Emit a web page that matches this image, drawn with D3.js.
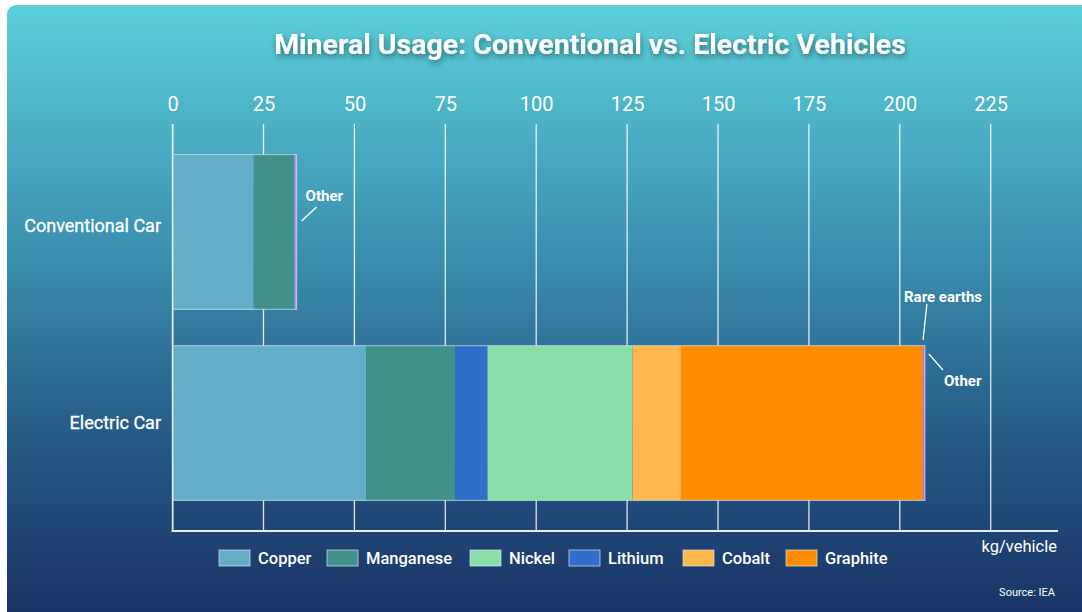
<!DOCTYPE html>
<html>
<head>
<meta charset="utf-8">
<script src="https://cdn.jsdelivr.net/npm/d3@7"></script>
<style>
  body { margin: 0; background: #fff; }
  svg { display: block; font-family: Roboto, "Noto Sans", sans-serif; }
</style>
</head>
<body>
<div id="chart-area"></div>
<script>
const categories = ["Conventional Car", "Electric Car"];
const minerals = ["Copper", "Manganese", "Lithium", "Nickel", "Cobalt", "Graphite", "Rare earths", "Other"];
const conventional = [22.3, 11.2, 0, 0, 0, 0, 0, 0.6];
const electric = [53.2, 24.5, 8.9, 39.9, 13.3, 66.3, 0.5, 0.3];
const legendNames = ["Copper", "Manganese", "Nickel", "Lithium", "Cobalt", "Graphite"];
const xTicks = [0, 25, 50, 75, 100, 125, 150, 175, 200, 225];

const colors = {
  "Copper": "#62aec6", "Manganese": "#40918a", "Lithium": "#2f6fcc", "Nickel": "#88e0a8",
  "Cobalt": "#fdb74d", "Graphite": "#fe8c00", "Rare earths": "#e27a8c", "Other": "#c490e4"
};

const W = 1082, H = 612;
const svg = d3.select("#chart-area").append("svg").attr("width", W).attr("height", H);
const defs = svg.append("defs");
const grad = defs.append("linearGradient").attr("id", "bg").attr("x1", 0).attr("y1", 0).attr("x2", 0).attr("y2", 1);
grad.append("stop").attr("offset", "0%").attr("stop-color", "#5bd0d9");
grad.append("stop").attr("offset", "40%").attr("stop-color", "#3a8eae");
grad.append("stop").attr("offset", "70%").attr("stop-color", "#245784");
grad.append("stop").attr("offset", "100%").attr("stop-color", "#192e62");
const shadow = defs.append("filter").attr("id", "shadow").attr("x", "-10%").attr("y", "-40%").attr("width", "120%").attr("height", "180%");
shadow.append("feDropShadow").attr("dx", 1).attr("dy", 3).attr("stdDeviation", 3).attr("flood-color", "#000").attr("flood-opacity", 0.45);

svg.append("rect").attr("x", 7).attr("y", 5).attr("width", W + 20).attr("height", H + 20)
  .attr("rx", 9).attr("fill", "url(#bg)");

svg.append("text").attr("x", 590).attr("y", 54).attr("text-anchor", "middle")
  .attr("fill", "#fff").attr("font-size", 28.5).attr("font-weight", 700)
  .attr("filter", "url(#shadow)")
  .text("Mineral Usage: Conventional vs. Electric Vehicles");

const x = d3.scaleLinear().domain([0, 244]).range([172.6, 1059.8]);
const y = d3.scaleBand().domain(categories).range([124, 531]).paddingInner(0.19).paddingOuter(0.16);

// grid lines
svg.append("g").selectAll("line").data(xTicks).join("line")
  .attr("x1", d => x(d)).attr("x2", d => x(d)).attr("y1", 124).attr("y2", 531)
  .attr("stroke", "#fff").attr("stroke-opacity", 0.85).attr("stroke-width", 1.3);

// top axis labels
const topAxis = d3.axisTop(x).tickValues(xTicks).tickSize(0).tickPadding(0);
const ax = svg.append("g").attr("transform", "translate(0,111)").call(topAxis);
ax.select(".domain").remove();
ax.selectAll("text").attr("fill", "#fff").attr("font-size", 20).attr("font-family", "Roboto");

// stacked bars
const rows = categories.map((c, i) => {
  const vals = i === 0 ? conventional : electric;
  const r = { category: c };
  minerals.forEach((m, j) => r[m] = vals[j]);
  return r;
});
const stack = d3.stack().keys(minerals)(rows);
svg.append("g").selectAll("g").data(stack).join("g")
  .attr("fill", d => colors[d.key])
  .selectAll("rect").data(d => d).join("rect")
  .attr("x", d => x(d[0])).attr("width", d => x(d[1]) - x(d[0]))
  .attr("y", d => y(d.data.category)).attr("height", y.bandwidth());

// bar outlines
svg.append("g").selectAll("rect").data(rows).join("rect")
  .attr("x", x(0)).attr("y", d => y(d.category)).attr("height", y.bandwidth())
  .attr("width", d => x(d3.sum(minerals, m => d[m])) - x(0))
  .attr("fill", "none").attr("stroke", "#d8e4ee").attr("stroke-opacity", 0.6).attr("stroke-width", 1.2);

// axes lines
svg.append("line").attr("x1", x(0)).attr("x2", x(0)).attr("y1", 124).attr("y2", 531)
  .attr("stroke", "#e8eef4").attr("stroke-width", 1.5);
svg.append("line").attr("x1", x(0) - 1).attr("x2", 1058).attr("y1", 531).attr("y2", 531)
  .attr("stroke", "#e8eef4").attr("stroke-width", 2.2);

// category labels
const labelShift = [0, 6];
svg.append("g").selectAll("text").data(categories).join("text")
  .attr("x", 161).attr("y", (d, i) => y(d) + y.bandwidth() / 2 + labelShift[i])
  .attr("text-anchor", "end").attr("fill", "#fff").attr("font-size", 18).attr("font-weight", 400)
  .style("paint-order", "stroke").attr("stroke", "#fff").attr("stroke-width", 0.3)
  .text(d => d);

// annotations
const convTotal = d3.sum(conventional);
const evTotal = d3.sum(electric);
const ann = svg.append("g").attr("stroke", "#fff").attr("stroke-width", 1.3);
ann.append("line").attr("x1", x(convTotal) + 5).attr("y1", 221).attr("x2", x(convTotal) + 20).attr("y2", 207);
ann.append("line").attr("x1", x(evTotal - 0.5)).attr("y1", 340).attr("x2", x(evTotal) + 2).attr("y2", 304);
ann.append("line").attr("x1", x(evTotal) + 4).attr("y1", 354).attr("x2", x(evTotal) + 18).attr("y2", 370);
const annText = [
  { t: "Other", x: x(convTotal) + 9, y: 201 },
  { t: "Rare earths", x: 904, y: 302 },
  { t: "Other", x: 944, y: 386 }
];
svg.append("g").selectAll("text").data(annText).join("text")
  .attr("x", d => d.x).attr("y", d => d.y).attr("fill", "#fff")
  .attr("font-size", 15).attr("font-weight", 700).text(d => d.t);

// legend
const legendX = [219, 327, 470, 569, 683, 786];
const lg = svg.append("g").selectAll("g").data(legendNames).join("g")
  .attr("transform", (d, i) => `translate(${legendX[i]},550)`);
lg.append("rect").attr("width", 31).attr("height", 16).attr("fill", d => colors[d])
  .attr("stroke", "#d8e4ee").attr("stroke-opacity", 0.7).attr("stroke-width", 1);
lg.append("text").attr("x", 39).attr("y", 14).attr("fill", "#fff")
  .attr("font-size", 16.5).attr("font-weight", 500).text(d => d);

svg.append("text").attr("x", 1057).attr("y", 552).attr("text-anchor", "end")
  .attr("fill", "#fff").attr("font-size", 16.5).text("kg/vehicle");
svg.append("text").attr("x", 1055).attr("y", 596).attr("text-anchor", "end")
  .attr("fill", "#fff").attr("font-size", 11).text("Source: IEA");
</script>
</body>
</html>
